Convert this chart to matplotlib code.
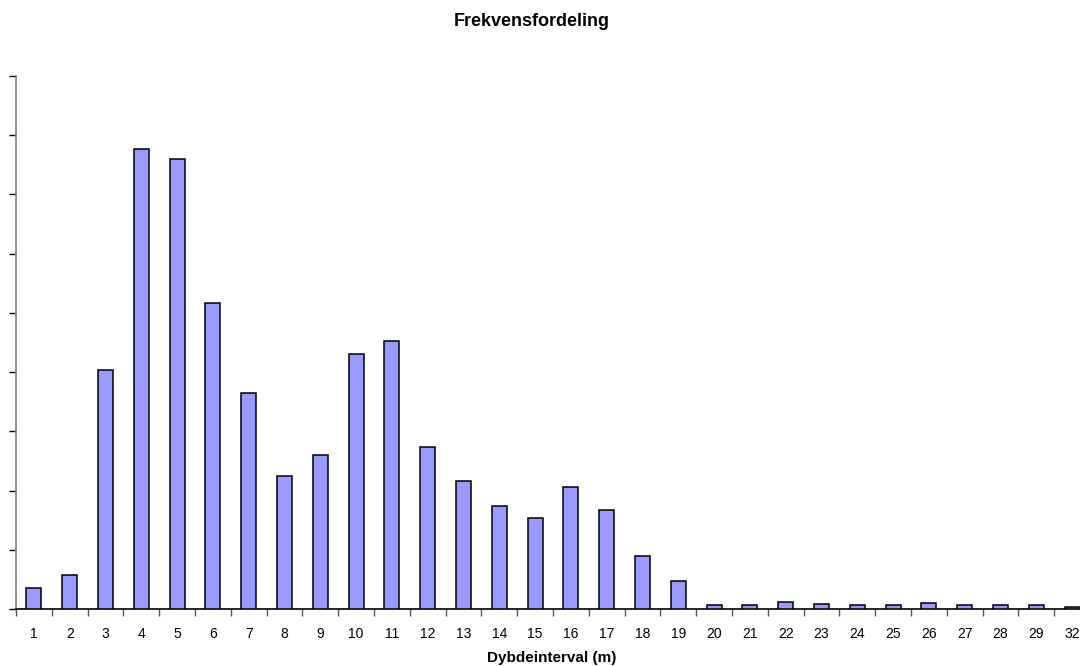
import numpy as np
import matplotlib
matplotlib.use('Agg')
import matplotlib.pyplot as plt

plt.rcParams['font.family'] = ['Liberation Sans', 'DejaVu Sans']

# Dybdeinterval (m) og antal observationer
intervals = ['1', '2', '3', '4', '5', '6', '7', '8', '9', '10',
             '11', '12', '13', '14', '15', '16', '17', '18', '19', '20',
             '21', '22', '23', '24', '25', '26', '27', '28', '29', '32']
counts = [18, 29, 202, 388, 380, 258, 182, 112, 130, 215,
          226, 137, 108, 87, 77, 103, 84, 45, 24, 3,
          3.5, 6, 4, 3.5, 3, 5, 3.5, 3.5, 3.5, 1.3]

fig = plt.figure(figsize=(10.8, 6.66), dpi=100)
ax = fig.add_axes([16/1080, 57/666, 1074/1080, 533/666])

x = np.arange(len(intervals))
ax.bar(x, counts, width=0.42, color='#9999FF', edgecolor='black', linewidth=1.1, zorder=3)

ax.set_xlim(-0.5, len(intervals) - 0.5)
ax.set_ylim(0, 450)
ax.set_yticks(np.arange(0, 451, 50))
ax.set_yticklabels([])

# labels at category centers, ticks at boundaries
ax.set_xticks(x)
ax.set_xticklabels(intervals, fontsize=10)
ax.set_xticks(np.arange(-0.5, len(intervals)), minor=True)
ax.tick_params(axis='x', which='major', length=0, pad=13)
ax.tick_params(axis='x', which='minor', length=5, color='#555555', width=1)
ax.tick_params(axis='y', length=5, color='black', width=1)

for s in ['top', 'right']:
    ax.spines[s].set_visible(False)
ax.spines['left'].set_color('#808080')
ax.spines['left'].set_linewidth(1.2)
ax.spines['bottom'].set_color('black')
ax.spines['bottom'].set_linewidth(1.2)

fig.text(532/1080, 1 - 22/666, 'Frekvensfordeling', ha='center', va='center',
         fontsize=13, fontweight='bold')
fig.text(552/1080, 1 - 658/666, 'Dybdeinterval (m)', ha='center', va='center',
         fontsize=11, fontweight='bold')

fig.savefig('out.png', dpi=100)
